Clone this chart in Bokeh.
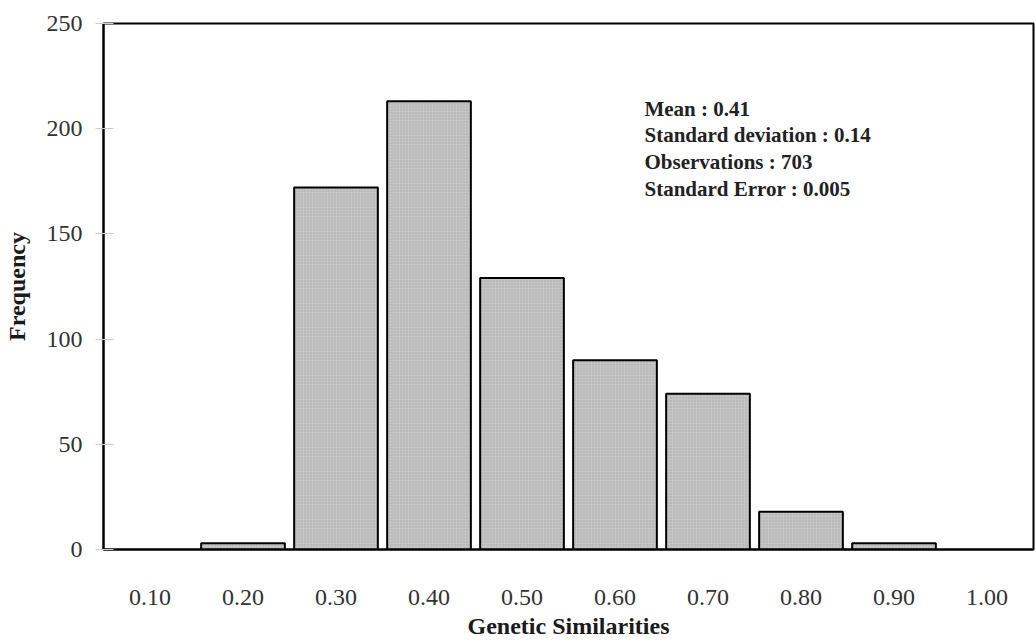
from bokeh.plotting import figure
from bokeh.models import FixedTicker, Label, Range1d
from bokeh.embed import file_html
from bokeh.resources import INLINE

# Data
bin_centers = [0.10, 0.20, 0.30, 0.40, 0.50, 0.60, 0.70, 0.80, 0.90, 1.00]
frequencies = [0, 3, 172, 213, 129, 90, 74, 18, 3, 0]
tick_labels = ["0.10", "0.20", "0.30", "0.40", "0.50", "0.60", "0.70", "0.80", "0.90", "1.00"]
stats_lines = [
    "Mean : 0.41",
    "Standard deviation : 0.14",
    "Observations : 703",
    "Standard Error : 0.005",
]

SERIF = "Liberation Serif"

p = figure(
    width=1036, height=644,
    x_range=Range1d(0.05, 1.05), y_range=Range1d(0, 250),
    output_backend="svg", toolbar_location=None,
    min_border_left=103, min_border_right=3, min_border_top=23, min_border_bottom=95,
)
p.background_fill_color = "white"
p.border_fill_color = "white"
p.outline_line_color = "black"
p.outline_line_width = 2
p.xgrid.visible = False
p.ygrid.visible = False

# bars (skip zero-height)
xs = [c for c, f in zip(bin_centers, frequencies) if f > 0]
hs = [f for f in frequencies if f > 0]
p.vbar(x=xs, top=hs, bottom=0, width=0.09,
       fill_color="#c4c4c4", line_color="black", line_width=2,
       hatch_pattern="dot", hatch_color="#8a8a8a", hatch_alpha=0.4, hatch_scale=3)

# x axis
p.xaxis.ticker = FixedTicker(ticks=bin_centers)
p.xaxis.major_label_overrides = {c: t for c, t in zip(bin_centers, tick_labels)}
p.xaxis.major_tick_line_color = None
p.xaxis.minor_tick_line_color = None
p.xaxis.major_tick_out = 0
p.xaxis.major_tick_in = 0
p.xaxis.major_label_standoff = 40
p.xaxis.major_label_text_font = SERIF
p.xaxis.major_label_text_font_size = "24px"
p.xaxis.major_label_text_color = "#333333"
p.xaxis.axis_line_color = "black"
p.xaxis.axis_line_width = 2
p.xaxis.axis_label = "Genetic Similarities"
p.xaxis.axis_label_text_font = SERIF
p.xaxis.axis_label_text_font_size = "24px"
p.xaxis.axis_label_text_font_style = "bold"
p.xaxis.axis_label_text_color = "#1a1a1a"
p.xaxis.axis_label_standoff = 5

# y axis
p.yaxis.ticker = FixedTicker(ticks=[0, 50, 100, 150, 200, 250])
p.yaxis.minor_tick_line_color = None
p.yaxis.major_tick_line_color = "#cccccc"
p.yaxis.major_tick_out = 8
p.yaxis.major_tick_in = 10
p.yaxis.major_label_standoff = 13
p.yaxis.major_label_text_font = SERIF
p.yaxis.major_label_text_font_size = "24px"
p.yaxis.major_label_text_color = "#333333"
p.yaxis.axis_line_color = "black"
p.yaxis.axis_line_width = 2
p.yaxis.axis_label = "Frequency"
p.yaxis.axis_label_text_font = SERIF
p.yaxis.axis_label_text_font_size = "24px"
p.yaxis.axis_label_text_font_style = "bold"
p.yaxis.axis_label_text_color = "#1a1a1a"
p.yaxis.axis_label_standoff = 14

# statistics box
y0 = 209.6
for i, line in enumerate(stats_lines):
    p.add_layout(Label(x=0.6317, y=y0 - i * 12.8, text=line,
                       text_font=SERIF, text_font_size="21px", text_font_style="bold",
                       text_color="#222222", text_baseline="middle", text_align="left"))

open("out.html", "w").write(file_html(p, INLINE))
